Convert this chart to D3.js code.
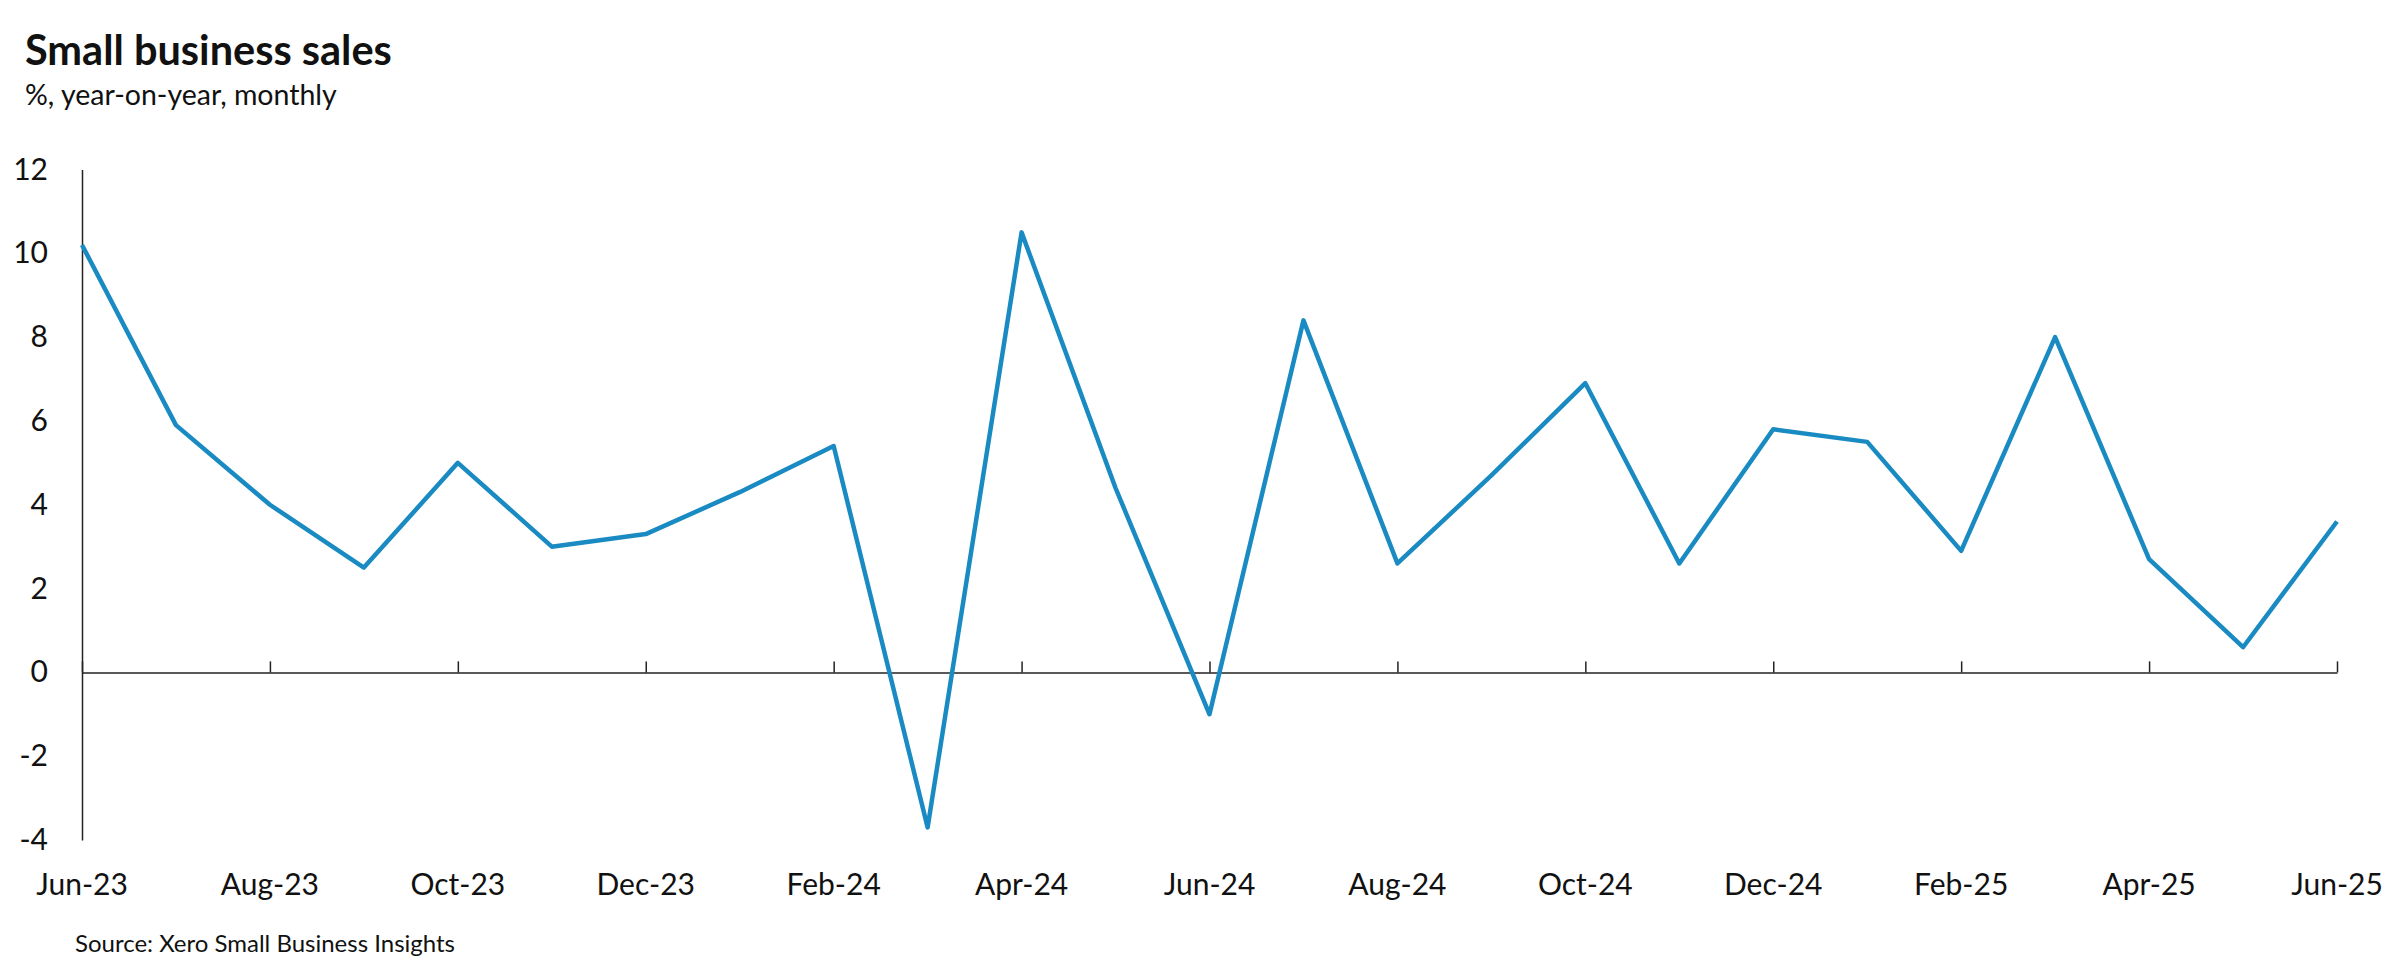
<!DOCTYPE html>
<html>
<head>
<meta charset="utf-8">
<script src="https://cdn.jsdelivr.net/npm/d3@7"></script>
<style>
  body { margin: 0; background: #ffffff; }
  text { font-family: Lato, "Open Sans", sans-serif; fill: #111111; }
</style>
</head>
<body>
<div id="chart"></div>
<script>
// monthly data, Jun-23 .. Jun-25
var months = ["Jun-23","Jul-23","Aug-23","Sep-23","Oct-23","Nov-23","Dec-23",
  "Jan-24","Feb-24","Mar-24","Apr-24","May-24","Jun-24","Jul-24","Aug-24",
  "Sep-24","Oct-24","Nov-24","Dec-24","Jan-25","Feb-25","Mar-25","Apr-25",
  "May-25","Jun-25"];
var sales = [10.2, 5.9, 4.0, 2.5, 5.0, 3.0, 3.3, 4.3, 5.4, -3.7, 10.5, 4.4,
  -1.0, 8.4, 2.6, 4.7, 6.9, 2.6, 5.8, 5.5, 2.9, 8.0, 2.7, 0.6, 3.6];
var yTicks = [-4, -2, 0, 2, 4, 6, 8, 10, 12];
var xTickLabels = ["Jun-23","Aug-23","Oct-23","Dec-23","Feb-24","Apr-24",
  "Jun-24","Aug-24","Oct-24","Dec-24","Feb-25","Apr-25","Jun-25"];

var chart = {};

document.addEventListener("DOMContentLoaded", function(event) {
  chartSetup();
});

function chartSetup() {
  chart.w = 2400;
  chart.h = 969;

  chart.svg = d3.select("#chart")
    .append("svg")
    .attr("width", chart.w)
    .attr("height", chart.h);

  chart.x = d3.scalePoint()
    .domain(months)
    .range([82, 2337]);

  chart.y = d3.scaleLinear()
    .domain([-4, 12])
    .range([840, 169.5]);

  // titles
  chart.svg.append("text")
    .attr("x", 25)
    .attr("y", 65)
    .style("font-size", "41.5px")
    .style("font-weight", "bold")
    .text("Small business sales");

  chart.svg.append("text")
    .attr("x", 25)
    .attr("y", 105)
    .style("font-size", "28.5px")
    .text("%, year-on-year, monthly");

  // y axis, line only; plain hyphen for negatives
  var yAxis = d3.axisLeft(chart.y)
    .tickValues(yTicks)
    .tickSize(0)
    .tickPadding(34)
    .tickFormat(function(d) { return String(d); });

  var gy = chart.svg.append("g")
    .attr("transform", "translate(" + chart.x(months[0]) + ",0)")
    .call(yAxis);
  gy.select(".domain")
    .attr("stroke", "#222")
    .attr("stroke-width", 1.5);
  gy.selectAll("text")
    .style("font-size", "30px")
    .style("font-family", "Lato, sans-serif")
    .attr("fill", "#111");

  // x axis along zero, ticks pointing up
  var xAxis = d3.axisTop(chart.x)
    .tickValues(xTickLabels)
    .tickSizeInner(11)
    .tickSizeOuter(0)
    .tickFormat("");

  var gx = chart.svg.append("g")
    .attr("transform", "translate(0," + chart.y(0) + ")")
    .call(xAxis);
  gx.select(".domain")
    .attr("stroke", "#222")
    .attr("stroke-width", 1.5);
  gx.selectAll(".tick line")
    .attr("stroke", "#222")
    .attr("stroke-width", 1.5);

  // month labels sit below the plot, not at the zero line
  chart.svg.append("g")
    .attr("class", "xlabels")
    .selectAll("text")
    .data(xTickLabels)
    .enter().append("text")
      .attr("x", function(d) { return chart.x(d); })
      .attr("y", 895)
      .attr("text-anchor", "middle")
      .style("font-size", "30px")
      .text(function(d) { return d; });

  chart.line = d3.line()
    .x(function(d, i) { return chart.x(months[i]); })
    .y(function(d) { return chart.y(d); });

  chart.svg.append("path")
    .datum(sales)
    .attr("d", chart.line)
    .attr("fill", "none")
    .attr("stroke", "#1a8bc2")
    .attr("stroke-width", 4.5)
    .attr("stroke-linejoin", "round");

  chart.svg.append("text")
    .attr("x", 75)
    .attr("y", 952)
    .style("font-size", "24px")
    .text("Source: Xero Small Business Insights");
}
</script>
</body>
</html>
